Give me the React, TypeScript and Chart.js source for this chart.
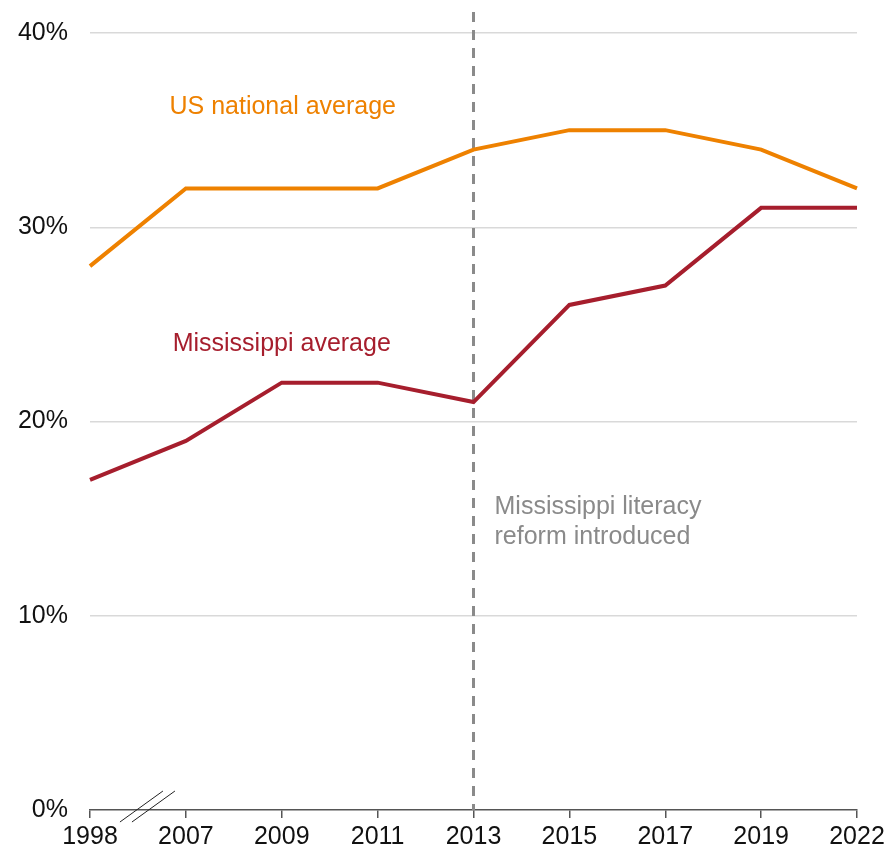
import React, { useEffect, useRef } from "react";
import { Chart, registerables } from "chart.js";

Chart.register(...registerables);

const years = ["1998", "2007", "2009", "2011", "2013", "2015", "2017", "2019", "2022"];
const usNational = [28, 32, 32, 32, 34, 35, 35, 34, 32];
const mississippi = [17, 19, 22, 22, 21, 26, 27, 31, 31];
const yTicks = [0, 10, 20, 30, 40];

const ORANGE = "#EE8100";
const RED = "#A61E2D";
const GRAY = "#8a8a8a";
const FONT = "'Liberation Sans', Arial, sans-serif";

const annotationPlugin = {
  id: "annotations",
  beforeDatasetsDraw(chart: any) {
    const { ctx, scales, chartArea } = chart;
    const xr = scales.x.getPixelForValue(4);
    ctx.save();
    ctx.strokeStyle = GRAY;
    ctx.lineWidth = 3;
    ctx.setLineDash([10, 8]);
    ctx.beginPath();
    ctx.moveTo(xr, 12);
    ctx.lineTo(xr, chartArea.bottom);
    ctx.stroke();
    ctx.restore();
  },
  afterDatasetsDraw(chart: any) {
    const { ctx, scales, chartArea } = chart;
    const x = scales.x;
    const y = scales.y;
    const xr = x.getPixelForValue(4);
    ctx.save();
    ctx.font = `25px ${FONT}`;
    ctx.textBaseline = "middle";
    ctx.textAlign = "center";
    ctx.fillStyle = ORANGE;
    ctx.fillText("US national average", x.getPixelForValue(2) + 1, y.getPixelForValue(36.2));
    ctx.fillStyle = RED;
    ctx.fillText("Mississippi average", x.getPixelForValue(2), y.getPixelForValue(24));
    ctx.textAlign = "left";
    ctx.fillStyle = GRAY;
    ctx.fillText("Mississippi literacy", xr + 21, y.getPixelForValue(15.6));
    ctx.fillText("reform introduced", xr + 21, y.getPixelForValue(14.05));

    // axis break marks
    const x0 = x.getPixelForValue(0);
    const x1 = x.getPixelForValue(1);
    const mid = (x0 + x1) / 2;
    const by = chartArea.bottom;
    ctx.strokeStyle = "#222";
    ctx.lineWidth = 1;
    ctx.beginPath();
    ctx.moveTo(mid - 18, by + 12);
    ctx.lineTo(mid + 25, by - 19);
    ctx.moveTo(mid - 6, by + 12);
    ctx.lineTo(mid + 37, by - 19);
    ctx.stroke();
    ctx.restore();
  },
};

export default function App() {
  const ref = useRef<HTMLCanvasElement>(null);
  useEffect(() => {
    document.body.style.margin = "0";
    const chart = new Chart(ref.current!, {
      type: "line",
      data: {
        labels: years,
        datasets: [
          {
            label: "US national average",
            data: usNational,
            borderColor: ORANGE,
            borderWidth: 4,
            pointRadius: 0,
            tension: 0,
          },
          {
            label: "Mississippi average",
            data: mississippi,
            borderColor: RED,
            borderWidth: 4,
            pointRadius: 0,
            tension: 0,
          },
        ],
      },
      options: {
        animation: false,
        responsive: false,
        layout: { padding: { top: 33, right: 30, left: 16, bottom: 0 } },
        plugins: { legend: { display: false }, tooltip: { enabled: false } },
        scales: {
          x: {
            offset: false,
            afterFit: (s: any) => {
              s.height = 39;
              s.paddingLeft = 0;
              s.paddingRight = 0;
            },
            grid: {
              display: true,
              drawOnChartArea: false,
              drawTicks: true,
              tickLength: 8,
              color: "#555",
              lineWidth: 1.5,
            },
            border: { display: true, color: "#555", width: 1.5 },
            ticks: {
              color: "#111",
              font: { family: FONT, size: 25 },
              padding: 4,
              maxRotation: 0,
              autoSkip: false,
            },
          },
          y: {
            min: 0,
            max: 40,
            afterFit: (s: any) => {
              s.width = 74;
              s.paddingTop = 0;
              s.paddingBottom = 0;
            },
            afterBuildTicks: (s: any) => {
              s.ticks = yTicks.map((v) => ({ value: v }));
            },
            grid: {
              color: (c: any) => (c.tick && c.tick.value === 0 ? "rgba(0,0,0,0)" : "#d9d9d9"),
              lineWidth: 1.5,
              drawTicks: false,
            },
            border: { display: false },
            ticks: {
              color: "#111",
              font: { family: FONT, size: 25 },
              padding: 22,
              callback: (v: any) => `${v}%`,
            },
          },
        },
      },
      plugins: [annotationPlugin],
    });
    return () => chart.destroy();
  }, []);
  return (
    <div style={{ width: 887, height: 849 }}>
      <canvas ref={ref} width={887} height={849} />
    </div>
  );
}
